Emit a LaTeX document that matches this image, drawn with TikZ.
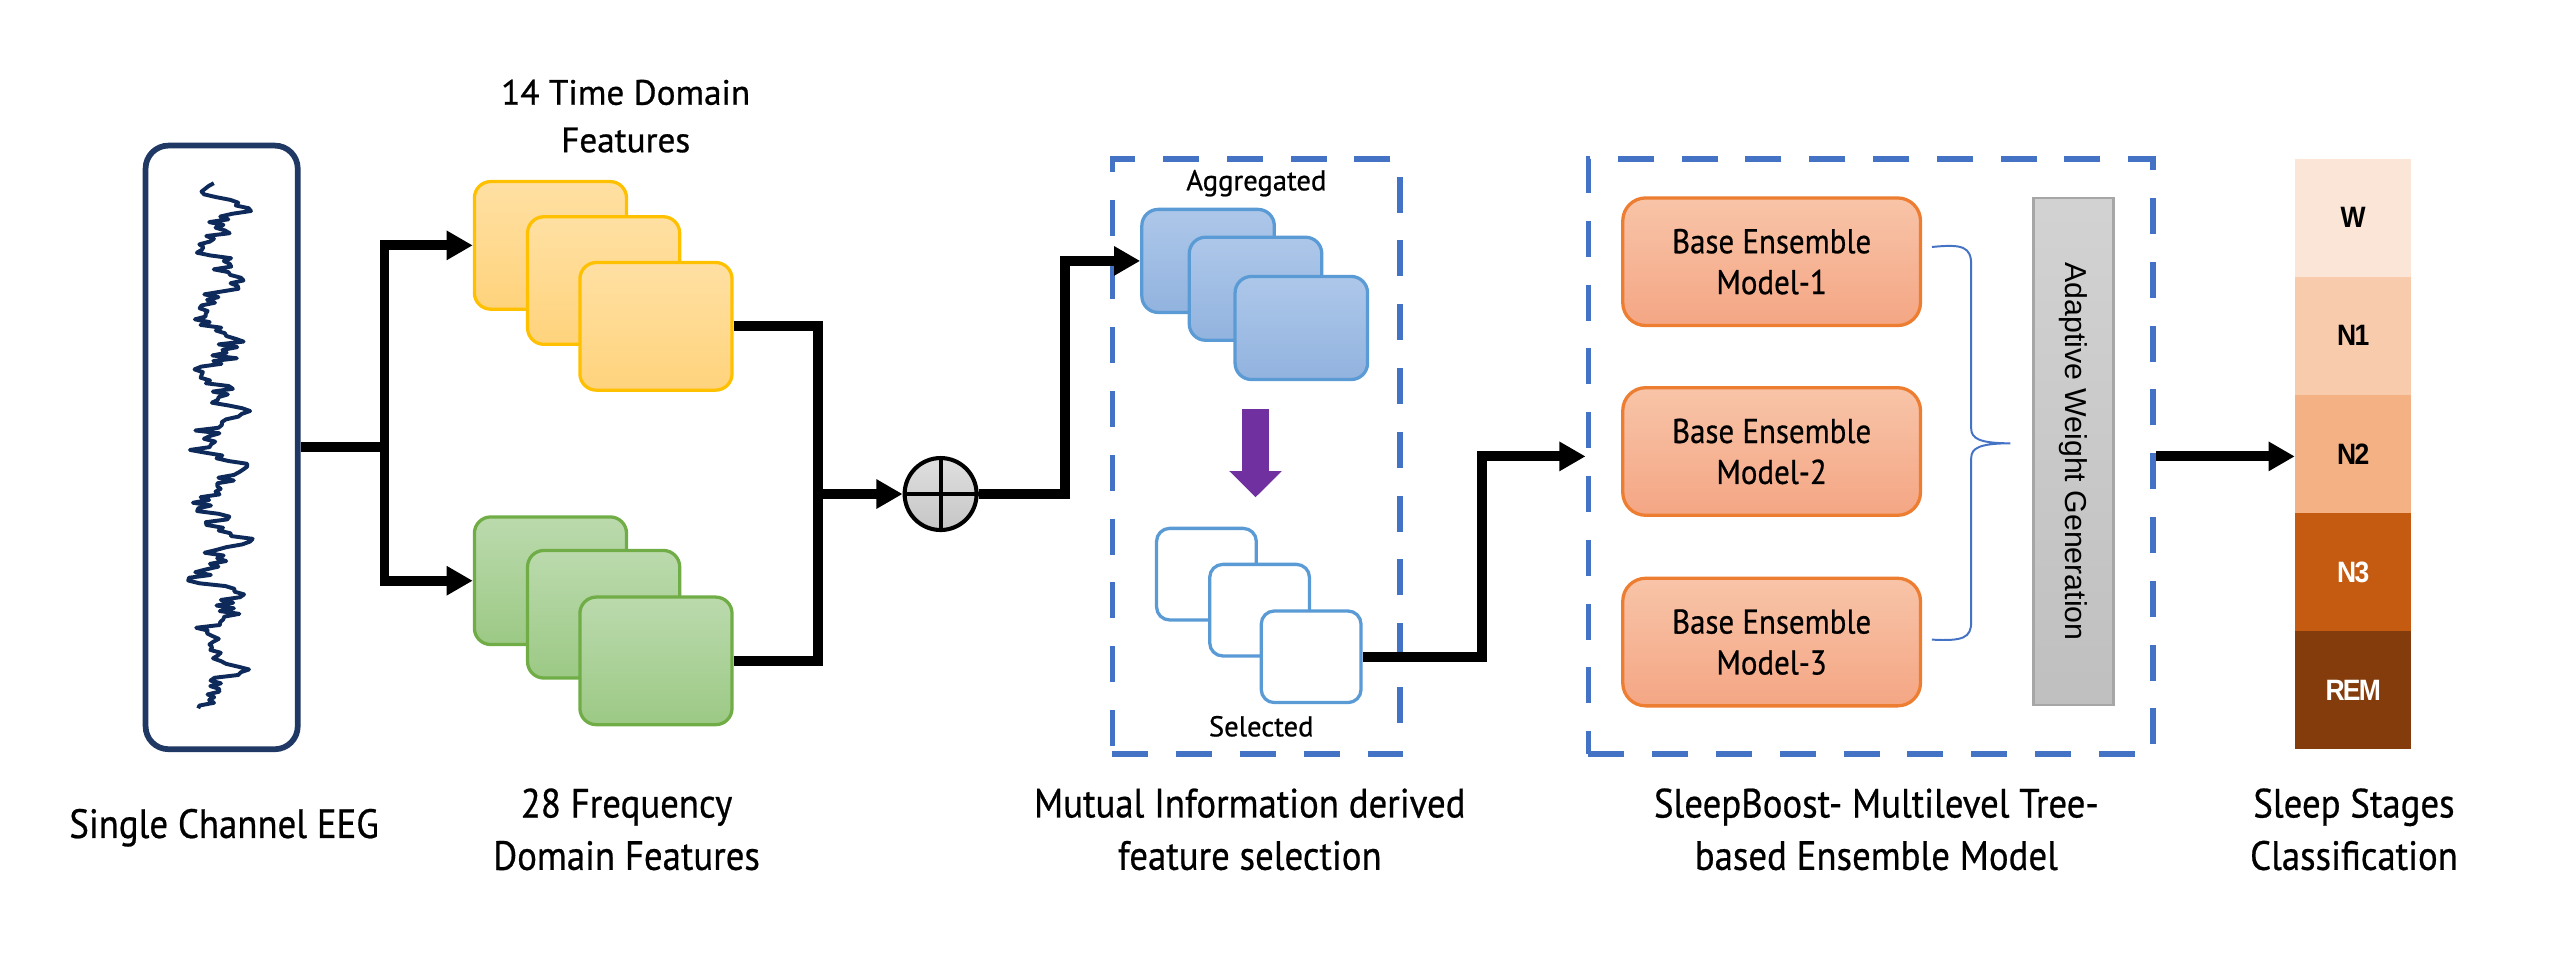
\documentclass[tikz,border=0pt]{standalone}
\usepackage{fontspec}
\setmainfont{PT Sans}
\newfontfamily\condfont{PT Sans}[FakeStretch=0.9, FakeBold=0.6]
\newfontfamily\headfont{PT Sans}[FakeBold=0.8]
\newfontfamily\arialfont{Liberation Sans}
\newfontfamily\stagefont{Liberation Sans}[FakeStretch=0.9, LetterSpace=-6]
\usetikzlibrary{arrows.meta}

\definecolor{eegnavy}{HTML}{1F3864}
\definecolor{eegtrace}{HTML}{0E2A5A}
\definecolor{timeedge}{HTML}{FFC000}
\definecolor{timetop}{HTML}{FFE0A3}
\definecolor{timebot}{HTML}{FFD37C}
\definecolor{freqedge}{HTML}{70AD47}
\definecolor{freqtop}{HTML}{BBDAAD}
\definecolor{freqbot}{HTML}{9CC985}
\definecolor{blueedge}{HTML}{5B9BD5}
\definecolor{aggtop}{HTML}{ADC7E9}
\definecolor{aggbot}{HTML}{92B3DF}
\definecolor{modeledge}{HTML}{ED7D31}
\definecolor{modeltop}{HTML}{F8C4A8}
\definecolor{modelbot}{HTML}{F4A684}
\definecolor{regionblue}{HTML}{4472C4}
\definecolor{selpurple}{HTML}{7030A0}
\definecolor{stW}{HTML}{FBE5D6}
\definecolor{stNone}{HTML}{F8CBAD}
\definecolor{stNtwo}{HTML}{F4B183}
\definecolor{stNthree}{HTML}{C55A11}
\definecolor{stREM}{HTML}{843C0C}

\begin{document}
\begin{tikzpicture}[x=1pt, y=-1pt,
	conn/.style={line width=6pt, black},
	arr/.style={conn, -{Triangle[length=16pt,width=17pt]}},
	card/.style={rounded corners=10pt, line width=2pt, minimum width=93pt, minimum height=78pt, inner sep=0pt},
	timebox/.style={card, draw=timeedge, top color=timetop, bottom color=timebot},
	freqbox/.style={card, draw=freqedge, top color=freqtop, bottom color=freqbot},
	aggbox/.style={card, draw=blueedge, top color=aggtop, bottom color=aggbot, minimum width=81pt, minimum height=63pt},
	selbox/.style={card, draw=blueedge, fill=white, minimum width=61pt, minimum height=56pt, rounded corners=8pt},
	modelbox/.style={card, draw=modeledge, top color=modeltop, bottom color=modelbot, minimum width=182pt, rounded corners=14pt, align=center, font=\fontsize{21}{25}\condfont},
	region/.style={draw=regionblue, line width=3.5pt, dash pattern=on 22pt off 17pt, inner sep=0pt},
	stage/.style={minimum width=71pt, minimum height=72.2pt, inner sep=0pt, font=\fontsize{18}{18}\stagefont\bfseries},
	caption/.style={align=center, font=\fontsize{25}{32}\condfont},
	small/.style={font=\fontsize{17.5}{17.5}\headfont},
]

	\useasboundingbox (0,0) rectangle (1568,596);

	% input signal
	\node[draw=eegnavy, line width=3.5pt, rounded corners=14pt, minimum width=93pt, minimum height=369pt] (eeg) at (135.5,273.5) {};
	\pgfmathsetseed{11}
	\draw[eegtrace, line width=2.4pt, line join=round] plot[variable=\t, domain=112:433, samples=190] ({134 + 9*sin(9*\t) + 5*sin(23*\t+40) + 8*rand}, \t);
	\node[caption] (eeglabel) at (137,506) {Single Channel EEG};

	% feature extraction
	\node[align=center, font=\fontsize{21.5}{29}\headfont] (timelabel) at (382.5,71) {14 Time Domain\\Features};
	\node[timebox] (t1) at (336.5,150) {};
	\node[timebox] (t2) at (369,171.5) {};
	\node[timebox] (t3) at (401,199.5) {};

	\node[freqbox] (f1) at (336.5,355) {};
	\node[freqbox] (f2) at (369,375.5) {};
	\node[freqbox] (f3) at (401,404) {};
	\node[caption] (freqlabel) at (383,507) {28 Frequency\\Domain Features};

	\coordinate (split) at (235,273.5);
	\draw[conn] (eeg.east) -- (split);
	\draw[arr] (split) |- (t1.west);
	\draw[arr] (split) |- (f1.west);

	% concatenation
	\node[circle, draw, line width=2.5pt, minimum size=44pt, top color=gray!25, bottom color=gray!45] (plus) at (575,302) {};
	\draw[line width=2.5pt] (plus.north) -- (plus.south);
	\draw[line width=2.5pt] (plus.west) -- (plus.east);
	\coordinate (join) at (500,302);
	\draw[conn] (t3.east) -| (join);
	\draw[conn] (f3.east) -| (join);
	\draw[arr] (join) -- (plus.west);

	% feature selection
	\node[region, minimum width=176pt, minimum height=364pt] (sel) at (768,279) {};
	\node[small] (agglabel) at (768,112) {Aggregated};
	\node[aggbox] (a1) at (738.5,159.5) {};
	\node[aggbox] (a2) at (767.5,176.5) {};
	\node[aggbox] (a3) at (795.5,200.5) {};
	\draw[selpurple, line width=17pt, -{Triangle[length=16pt,width=31pt]}] (767.5,250) -- (767.5,304);
	\node[selbox] (s1) at (737.5,351) {};
	\node[selbox] (s2) at (770,373) {};
	\node[selbox] (s3) at (801.5,401.5) {};
	\node[small] (sellabel) at (771,444) {Selected};
	\node[caption] (mutlabel) at (764,507) {Mutual Information derived\\feature selection};

	\draw[arr] (plus.east) -- ++(53,0) |- (a1.west);

	% ensemble
	\node[region, minimum width=345pt, minimum height=364pt] (ens) at (1143.5,279) {};
	\node[modelbox] (m1) at (1083,160) {Base Ensemble\\Model-1};
	\node[modelbox] (m2) at (1083,276) {Base Ensemble\\Model-2};
	\node[modelbox] (m3) at (1083,392.5) {Base Ensemble\\Model-3};
	\node[draw=gray!70, line width=1.5pt, top color=gray!35, bottom color=gray!50, minimum width=49pt, minimum height=310pt, inner sep=0pt] (awg) at (1267.5,276) {};
	\node[rotate=-90, font=\fontsize{18.5}{20}\arialfont] (awglabel) at (awg.center) {Adaptive Weight Generation};
	\draw[regionblue, line width=1.2pt] (1181,151) .. controls (1200,149) and (1205,151) .. (1205,162) -- (1205,262) .. controls (1205,268) and (1210,271) .. (1229,271) .. controls (1210,271) and (1205,274) .. (1205,280) -- (1205,380) .. controls (1205,390) and (1200,392) .. (1181,391);
	\node[caption] (enslabel) at (1147,507) {SleepBoost- Multilevel Tree-\\based Ensemble Model};

	\draw[arr] (s3.east) -- ++(73,0) |- (ens.west);

	% output
	\node[stage, fill=stW] (w) at (1438.5,133.1) {W};
	\node[stage, fill=stNone] (n1) at (1438.5,205.3) {N1};
	\node[stage, fill=stNtwo] (n2) at (1438.5,277.5) {N2};
	\node[stage, fill=stNthree, text=white] (n3) at (1438.5,349.7) {N3};
	\node[stage, fill=stREM, text=white] (rem) at (1438.5,421.9) {REM};
	\node[caption] (stagelabel) at (1439,507) {Sleep Stages\\Classification};

	\draw[arr] (ens.east) -- (ens.east -| n2.west);

\end{tikzpicture}
\end{document}
